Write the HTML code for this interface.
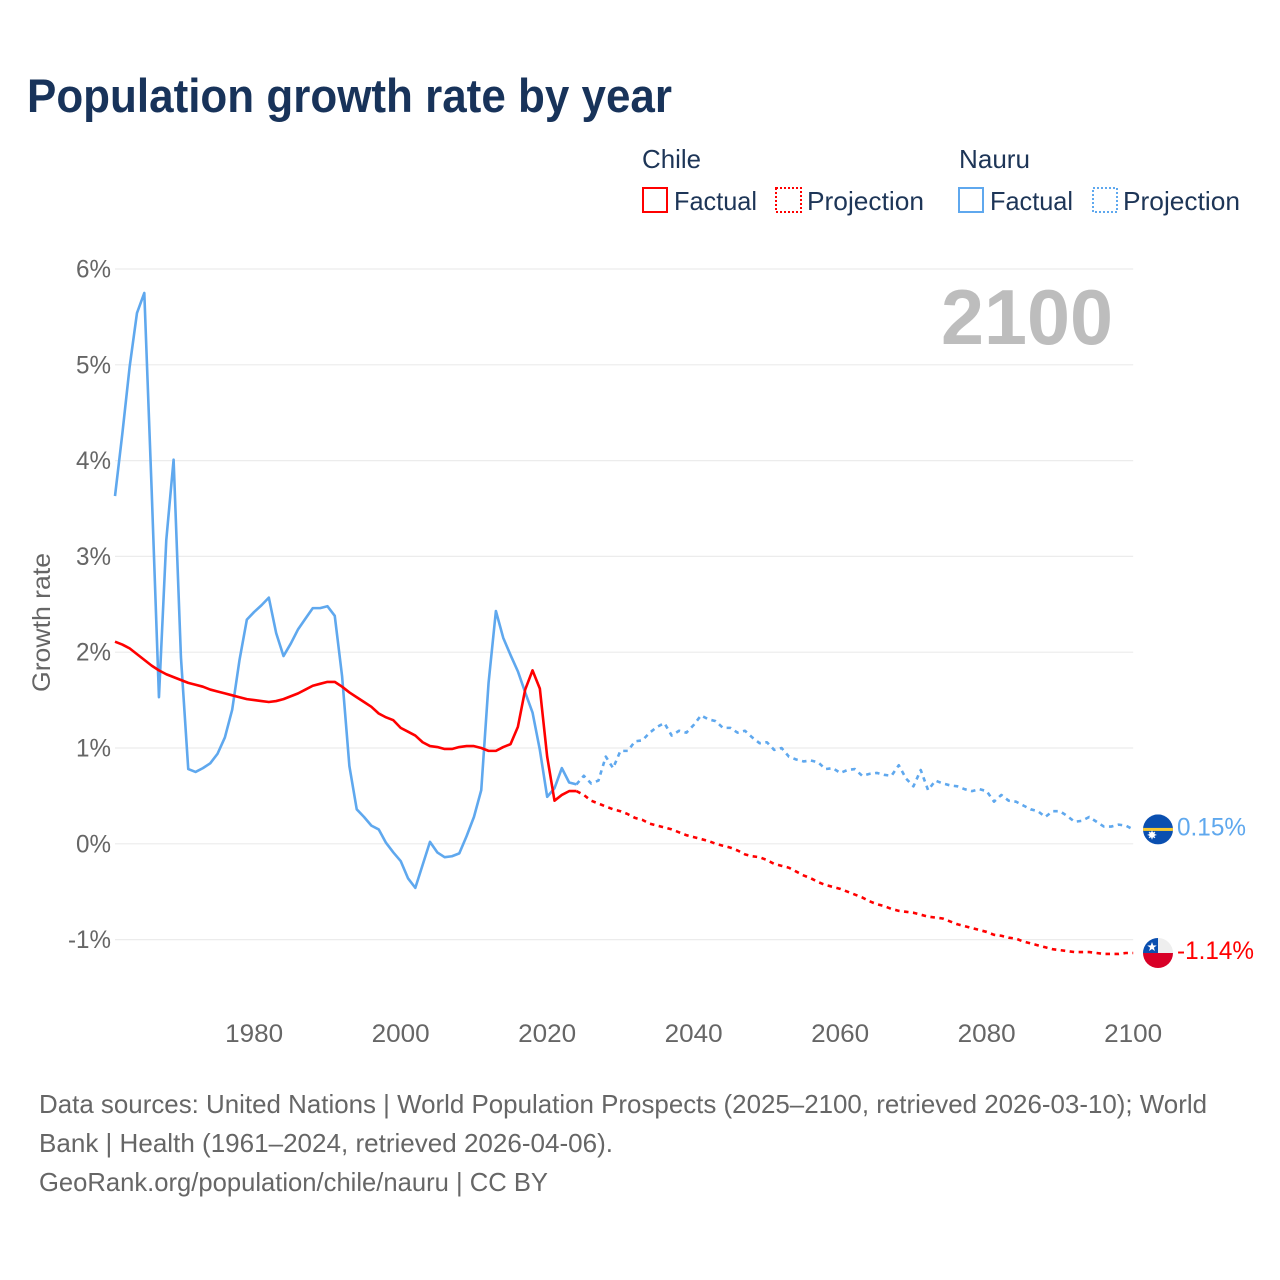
<!DOCTYPE html>
<html lang="en">
<head>
<meta charset="utf-8">
<title>Population growth rate by year</title>
<style>
html,body{margin:0;padding:0;background:#fff;}
svg{display:block;font-family:"Liberation Sans",sans-serif;}
</style>
</head>
<body>
<svg id="chart" xmlns="http://www.w3.org/2000/svg" width="1280" height="1280" viewBox="0 0 1280 1280">
<rect width="1280" height="1280" fill="#fff"/>
<text x="27" y="112" font-size="47" font-weight="700" fill="#18335a" textLength="645" lengthAdjust="spacingAndGlyphs">Population growth rate by year</text>

<g font-size="26" fill="#1d3557">
<text x="642" y="168" textLength="59" lengthAdjust="spacingAndGlyphs">Chile</text>
<text x="959" y="168" textLength="71" lengthAdjust="spacingAndGlyphs">Nauru</text>
<rect x="643" y="188" width="24" height="24" fill="none" stroke="#ff0000" stroke-width="2"/>
<text x="674" y="210" textLength="83" lengthAdjust="spacingAndGlyphs">Factual</text>
<rect x="776" y="188" width="25" height="24" fill="none" stroke="#ff0000" stroke-width="2" stroke-dasharray="2 2"/>
<text x="807" y="210" textLength="117" lengthAdjust="spacingAndGlyphs">Projection</text>
<rect x="959" y="188" width="24" height="24" fill="none" stroke="#5fa8ee" stroke-width="2"/>
<text x="990" y="210" textLength="83" lengthAdjust="spacingAndGlyphs">Factual</text>
<rect x="1093" y="188" width="24" height="24" fill="none" stroke="#5fa8ee" stroke-width="2" stroke-dasharray="2 2"/>
<text x="1123" y="210" textLength="117" lengthAdjust="spacingAndGlyphs">Projection</text>
</g>

<g id="grid"></g>
<g id="yticks"></g>
<g id="xticks"></g>
<text transform="translate(50,692) rotate(-90)" font-size="25" fill="#666" textLength="139" lengthAdjust="spacingAndGlyphs">Growth rate</text>
<text x="941" y="344" font-size="78" font-weight="700" fill="#bdbdbd" textLength="172" lengthAdjust="spacingAndGlyphs">2100</text>

<g id="series"></g>

<g id="flag-nauru">
<clipPath id="clip-nauru"><circle cx="0" cy="0" r="15"/></clipPath>
<g clip-path="url(#clip-nauru)">
<rect x="-15" y="-15" width="30" height="30" fill="#0a4fb0"/>
<rect x="-15" y="-1.5" width="30" height="3" fill="#f5c832"/>
<circle cx="-6" cy="5.5" r="3" fill="#fff"/>
<path d="M-6 1.2V9.8M-10.3 5.5H-1.7M-9 2.5L-3 8.5M-9 8.5L-3 2.5" stroke="#fff" stroke-width="1"/>
</g>
</g>
<g id="flag-chile">
<clipPath id="clip-chile"><circle cx="0" cy="0" r="15"/></clipPath>
<g clip-path="url(#clip-chile)">
<rect x="-15" y="-15" width="30" height="15" fill="#eeeeee"/>
<rect x="-15" y="-15" width="15" height="15" fill="#0a4fb0"/>
<rect x="-15" y="0" width="30" height="15" fill="#d80027"/>
<polygon points="-6,-11 -4.8,-7.6 -1.3,-7.5 -4.1,-5.4 -3.1,-2 -6,-4 -8.9,-2 -7.9,-5.4 -10.7,-7.5 -7.2,-7.6" fill="#fff"/>
</g>
</g>
<text id="label-nauru" x="1177" font-size="25" fill="#5fa8ee" textLength="69" lengthAdjust="spacingAndGlyphs"></text>
<text id="label-chile" x="1177" font-size="25" fill="#ff0000" textLength="77" lengthAdjust="spacingAndGlyphs"></text>

<g font-size="26" fill="#666">
<text x="39" y="1113" textLength="1168" lengthAdjust="spacingAndGlyphs">Data sources: United Nations | World Population Prospects (2025–2100, retrieved 2026-03-10); World</text>
<text x="39" y="1152" textLength="574" lengthAdjust="spacingAndGlyphs">Bank | Health (1961–2024, retrieved 2026-04-06).</text>
<text x="39" y="1191" textLength="509" lengthAdjust="spacingAndGlyphs">GeoRank.org/population/chile/nauru | CC BY</text>
</g>
</svg>

<script>
const yTickValues = [6, 5, 4, 3, 2, 1, 0, -1];
const yTickLabels = ["6%", "5%", "4%", "3%", "2%", "1%", "0%", "-1%"];
const xTickYears = [1980, 2000, 2020, 2040, 2060, 2080, 2100];
const xTickLabels = ["1980", "2000", "2020", "2040", "2060", "2080", "2100"];
const factualStartYear = 1961;
const projectionStartYear = 2024;

const chileFactual = [2.11,2.08,2.04,1.98,1.92,1.86,1.81,1.77,1.74,1.71,1.68,1.66,1.64,1.61,1.59,1.57,1.55,1.53,1.51,1.50,1.49,1.48,1.49,1.51,1.54,1.57,1.61,1.65,1.67,1.69,1.69,1.64,1.58,1.53,1.48,1.43,1.36,1.32,1.29,1.21,1.17,1.13,1.06,1.02,1.01,0.99,0.99,1.01,1.02,1.02,1.00,0.97,0.97,1.01,1.04,1.22,1.61,1.81,1.62,0.91,0.45,0.51,0.55,0.55];
const chileProjection = [0.55,0.51,0.45,0.42,0.39,0.36,0.34,0.31,0.27,0.25,0.21,0.19,0.17,0.15,0.12,0.09,0.07,0.05,0.03,0.00,-0.02,-0.04,-0.07,-0.11,-0.13,-0.14,-0.17,-0.21,-0.23,-0.25,-0.29,-0.33,-0.36,-0.40,-0.43,-0.45,-0.47,-0.50,-0.53,-0.56,-0.60,-0.63,-0.65,-0.68,-0.70,-0.71,-0.72,-0.74,-0.76,-0.77,-0.78,-0.81,-0.84,-0.86,-0.88,-0.90,-0.92,-0.95,-0.96,-0.98,-0.99,-1.02,-1.04,-1.06,-1.08,-1.10,-1.11,-1.12,-1.13,-1.13,-1.13,-1.14,-1.15,-1.15,-1.15,-1.14,-1.14];
const nauruFactual = [3.63,4.28,4.98,5.54,5.75,3.70,1.53,3.17,4.01,1.95,0.78,0.75,0.79,0.84,0.94,1.11,1.40,1.92,2.34,2.42,2.49,2.57,2.20,1.96,2.09,2.24,2.35,2.46,2.46,2.48,2.38,1.75,0.81,0.36,0.28,0.19,0.15,0.01,-0.09,-0.18,-0.36,-0.46,-0.22,0.02,-0.09,-0.14,-0.13,-0.10,0.08,0.28,0.56,1.68,2.43,2.15,1.97,1.80,1.58,1.37,0.98,0.49,0.58,0.79,0.64,0.62];
const nauruProjection = [0.62,0.71,0.63,0.66,0.91,0.79,0.97,0.97,1.07,1.08,1.16,1.22,1.26,1.13,1.18,1.16,1.24,1.34,1.30,1.28,1.21,1.21,1.16,1.18,1.11,1.05,1.06,0.98,1.00,0.91,0.88,0.86,0.87,0.85,0.78,0.79,0.74,0.77,0.78,0.71,0.73,0.74,0.72,0.71,0.82,0.68,0.60,0.77,0.56,0.66,0.63,0.61,0.60,0.57,0.55,0.57,0.55,0.44,0.51,0.45,0.44,0.40,0.36,0.34,0.28,0.34,0.34,0.29,0.23,0.24,0.28,0.23,0.18,0.18,0.20,0.19,0.15];

const NS = "http://www.w3.org/2000/svg";
function xScale(year) { return 115 + (year - 1961) * 7.325; }
function yScale(value) { return 843.8 - value * 95.8; }

function buildPath(startYear, values) {
  return values.map(function (v, i) {
    return (i ? "L" : "M") + xScale(startYear + i).toFixed(2) + " " + yScale(v).toFixed(2);
  }).join("");
}

const grid = document.getElementById("grid");
const yticks = document.getElementById("yticks");
yTickValues.forEach(function (v, i) {
  const line = document.createElementNS(NS, "line");
  
  
  line.setAttribute("x1", 115);
  line.setAttribute("x2", xScale(2100));
  line.setAttribute("y1", yScale(v));
  line.setAttribute("y2", yScale(v));
  line.setAttribute("stroke", "#ececec");
  line.setAttribute("stroke-width", "1.2");
  grid.appendChild(line);

  const t = document.createElementNS(NS, "text");
  
  
  const w = yTickLabels[i].length === 3 ? 43 : 35;
  t.setAttribute("x", 111 - w);
  t.setAttribute("y", yScale(v) + 8.5);
  t.setAttribute("font-size", "25");
  t.setAttribute("fill", "#666");
  t.setAttribute("textLength", w);
  t.setAttribute("lengthAdjust", "spacingAndGlyphs");
  t.textContent = yTickLabels[i];
  yticks.appendChild(t);
});

const xticks = document.getElementById("xticks");
xTickYears.forEach(function (yr, i) {
  const t = document.createElementNS(NS, "text");
  
  
  t.setAttribute("x", xScale(yr) - 29);
  t.setAttribute("y", 1042);
  t.setAttribute("font-size", "25");
  t.setAttribute("fill", "#666");
  t.setAttribute("textLength", 58);
  t.setAttribute("lengthAdjust", "spacingAndGlyphs");
  t.textContent = xTickLabels[i];
  xticks.appendChild(t);
});

const seriesGroup = document.getElementById("series");
function addLine(startYear, values, color, dashed) {
  const p = document.createElementNS(NS, "path");
  p.setAttribute("d", buildPath(startYear, values));
  p.setAttribute("fill", "none");
  p.setAttribute("stroke", color);
  p.setAttribute("stroke-width", "2.6");
  p.setAttribute("stroke-linejoin", "round");
  if (dashed) p.setAttribute("stroke-dasharray", "4.5 4.5");
  seriesGroup.appendChild(p);
  return p;
}
const lineNauruProjection = addLine(projectionStartYear, nauruProjection, "#5fa8ee", true);


const lineNauruFactual = addLine(factualStartYear, nauruFactual, "#5fa8ee", false);


const lineChileProjection = addLine(projectionStartYear, chileProjection, "#ff0000", true);


const lineChileFactual = addLine(factualStartYear, chileFactual, "#ff0000", false);



function placeEnd(flagId, labelId, values) {
  const last = values[values.length - 1];
  const y = yScale(last);
  document.getElementById(flagId).setAttribute("transform", "translate(1158," + y + ")");
  const label = document.getElementById(labelId);
  label.setAttribute("y", y + 6);
  label.textContent = last.toFixed(2) + "%";
}
placeEnd("flag-nauru", "label-nauru", nauruProjection);
placeEnd("flag-chile", "label-chile", chileProjection);
</script>
</body>
</html>
